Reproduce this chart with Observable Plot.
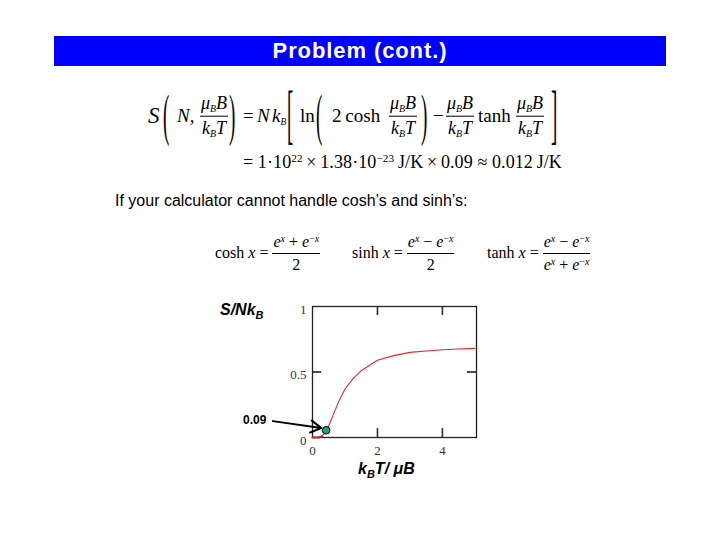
<!DOCTYPE html>
<html>
<head>
<meta charset="utf-8">
<script src="https://cdn.jsdelivr.net/npm/d3@7"></script>
<script src="https://cdn.jsdelivr.net/npm/@observablehq/plot@0.6"></script>
<style>
  html, body { margin: 0; padding: 0; background: #fff; }
  #page { position: relative; width: 720px; height: 540px; overflow: hidden; background: #fff; }
  .abs { position: absolute; white-space: nowrap; }
  .ser { font-family: "Liberation Serif", "Times New Roman", serif; color: #000; }
  .frac { display: inline-flex; flex-direction: column; align-items: center; vertical-align: middle; }
  .frac > .num { padding: 0 1px 2px 1px; border-bottom: 1px solid #000; line-height: 1.1; }
  .frac > .den { padding: 2px 1px 0 1px; line-height: 1.1; }
  .frac sub, .ser sub { font-size: 55%; vertical-align: -0.3em; line-height: 0; }
  .frac sup, .ser sup { font-size: 62%; vertical-align: 0.55em; line-height: 0; }
  .row { display: flex; align-items: center; }
  #eq1 > span { position: absolute; top: 32px; transform: translateY(-50%); white-space: nowrap; }
  #eq1 > span.big3 { transform: translateY(-50%) scaleY(3.0); }
  #eq1 > span.big4 { transform: translateY(-50%) scaleY(3.4); }
  #eq1 .frac { font-size: 18px; }
</style>
</head>
<body>
<div id="page">
  <div class="abs" style="left:54px;top:36px;width:612px;height:30px;background:#0000ff;"></div>
  <div class="abs" id="title" style="left:54px;top:36px;width:612px;height:30px;line-height:30px;text-align:center;color:#fff;font-family:'Liberation Sans',Arial,sans-serif;font-size:22px;font-weight:bold;letter-spacing:0.9px;"></div>

  <div class="abs ser" id="eq1" style="left:0px;top:84px;width:720px;height:64px;font-size:19px;">
    <span style="left:148px;font-size:23px;font-style:italic;">S</span>
    <span class="big3" style="left:163px;">(</span>
    <span style="left:177px;"><i>N</i>,</span>
    <span class="frac" style="left:200px;"><span class="num"><i>μ</i><sub><i>B</i></sub><i>B</i></span><span class="den"><i>k</i><sub><i>B</i></sub><i>T</i></span></span>
    <span class="big3" style="left:229px;">)</span>
    <span style="left:243px;">=</span>
    <span style="left:257px;font-style:italic;">N</span>
    <span style="left:272px;"><i>k</i><sub style="font-size:50%;"><i>B</i></sub></span>
    <span class="big4" style="left:287px;">[</span>
    <span style="left:300px;">ln</span>
    <span class="big3" style="left:316px;">(</span>
    <span style="left:332px;">2&thinsp;cosh</span>
    <span class="frac" style="left:389px;"><span class="num"><i>μ</i><sub><i>B</i></sub><i>B</i></span><span class="den"><i>k</i><sub><i>B</i></sub><i>T</i></span></span>
    <span class="big3" style="left:421px;">)</span>
    <span style="left:433px;">−</span>
    <span class="frac" style="left:446px;"><span class="num"><i>μ</i><sub><i>B</i></sub><i>B</i></span><span class="den"><i>k</i><sub><i>B</i></sub><i>T</i></span></span>
    <span style="left:478px;">tanh</span>
    <span class="frac" style="left:516px;"><span class="num"><i>μ</i><sub><i>B</i></sub><i>B</i></span><span class="den"><i>k</i><sub><i>B</i></sub><i>T</i></span></span>
    <span class="big4" style="left:551px;">]</span>
  </div>
  <div class="abs ser" id="eq2" style="left:243px;top:152px;font-size:18px;letter-spacing:0.1px;"></div>

  <div class="abs" id="calcnote" style="left:115px;top:193px;line-height:1;font-family:'Liberation Sans',Arial,sans-serif;font-size:16px;color:#000;"></div>

  <div class="abs ser row" style="left:215px;top:233px;font-size:16px;">
    <span>cosh&nbsp;<i>x</i>&nbsp;=&nbsp;</span>
    <span class="frac"><span class="num"><i>e</i><sup><i>x</i></sup> + <i>e</i><sup>−<i>x</i></sup></span><span class="den">2</span></span>
  </div>
  <div class="abs ser row" style="left:352px;top:233px;font-size:16px;">
    <span>sinh&nbsp;<i>x</i>&nbsp;=&nbsp;</span>
    <span class="frac"><span class="num"><i>e</i><sup><i>x</i></sup> − <i>e</i><sup>−<i>x</i></sup></span><span class="den">2</span></span>
  </div>
  <div class="abs ser row" style="left:487px;top:233px;font-size:16px;">
    <span>tanh&nbsp;<i>x</i>&nbsp;=&nbsp;</span>
    <span class="frac"><span class="num"><i>e</i><sup><i>x</i></sup> − <i>e</i><sup>−<i>x</i></sup></span><span class="den"><i>e</i><sup><i>x</i></sup> + <i>e</i><sup>−<i>x</i></sup></span></span>
  </div>

  <div class="abs" id="chart" style="left:200px;top:290px;"></div>
  <div class="abs" style="left:220px;top:301px;font-family:'Liberation Sans',Arial,sans-serif;font-size:16px;font-weight:bold;font-style:italic;">S/Nk<sub style="font-size:11px;vertical-align:-0.35em;">B</sub></div>
  <div class="abs" style="left:358px;top:460px;font-family:'Liberation Sans',Arial,sans-serif;font-size:16px;font-weight:bold;font-style:italic;">k<sub style="font-size:11px;vertical-align:-0.35em;">B</sub>T/ μB</div>
</div>
<script>
// ---- text ----
const titleText = "Problem (cont.)";
const noteText = "If your calculator cannot handle cosh\u2019s and sinh\u2019s:";
document.getElementById("title").textContent = titleText;
document.getElementById("calcnote").textContent = noteText;
document.getElementById("eq2").innerHTML =
  "= 1\u00b710<sup>22</sup>&thinsp;\u00d7\u20091.38\u00b710<sup>\u221223</sup>&thinsp;J/K\u2009\u00d7\u20090.09 \u2248 0.012\u2009J/K";

// ---- chart data ----
const tValues = [0, 0.2, 0.3, 0.4, 0.5, 0.6, 0.8, 1.0, 1.25, 1.5, 2, 2.5, 3, 3.5, 4, 4.5, 5];
const sValues = [0, 0, 0.01, 0.04, 0.09, 0.15, 0.27, 0.37, 0.45, 0.51, 0.59, 0.625, 0.65, 0.66, 0.67, 0.675, 0.68];
const xTicks = [0, 2, 4];
const xTickLabels = ["0", "2", "4"];
const yTicks = [0, 0.5, 1];
const yTickLabels = ["0", "0.5", "1"];
const markerX = [0.42];
const markerY = [0.055];
const arrowFrom = [-1.22, 0.125];
const arrowTo = [0.27, 0.072];
const annotationText = "0.09";
const annotationPos = [-1.42, 0.13];

const curve = tValues.map((t, i) => ({t, s: sValues[i]}));
const marker = markerX.map((x, i) => ({x, y: markerY[i]}));
const xDomain = [0, 5.05];
const tickLenX = 0.069; // inward tick length in y units
const tickLenY = 0.28;  // inward tick length in x units

const chart = Plot.plot({
  width: 290,
  height: 190,
  marginLeft: 112,
  marginRight: 14,
  marginTop: 16,
  marginBottom: 43,
  style: {fontFamily: "'Liberation Serif', 'Times New Roman', serif", fontSize: "13px", color: "#333", background: "transparent", overflow: "visible"},
  x: {domain: xDomain, label: null},
  y: {domain: [0, 1], label: null},
  marks: [
    Plot.axisX({ticks: xTicks, tickSize: 0, tickPadding: 8, label: null, fontSize: 13,
      tickFormat: d => xTickLabels[xTicks.indexOf(d)]}),
    Plot.axisY({ticks: yTicks, tickSize: 0, tickPadding: 6, label: null, fontSize: 13, dy: 3,
      tickFormat: d => yTickLabels[yTicks.indexOf(d)]}),
    Plot.ruleX(xTicks.filter(d => d > 0), {x: d => d, y1: 0, y2: tickLenX, stroke: "#333", strokeWidth: 1.6}),
    Plot.ruleX(xTicks.filter(d => d > 0), {x: d => d, y1: 1, y2: 1 - tickLenX, stroke: "#333", strokeWidth: 1.6}),
    Plot.ruleY([0.5], {y: d => d, x1: 0, x2: tickLenY, stroke: "#222", strokeWidth: 1.6}),
    Plot.ruleY([0.5], {y: d => d, x1: xDomain[1], x2: xDomain[1] - tickLenY, stroke: "#222", strokeWidth: 1.6}),
    Plot.frame({stroke: "#222", strokeWidth: 1.3}),
    Plot.line(curve.filter(d => d.t <= 0.35), {x: "t", y: "s", stroke: "#9b1a1a", strokeWidth: 2}),
    Plot.line(curve, {x: "t", y: "s", stroke: "#e0262e", strokeWidth: 1.1}),
    Plot.arrow([{x1: arrowFrom[0], y1: arrowFrom[1], x2: arrowTo[0], y2: arrowTo[1]}],
      {x1: "x1", y1: "y1", x2: "x2", y2: "y2", stroke: "#000", strokeWidth: 2, headLength: 9, bend: 0}),
    Plot.text([annotationText], {x: annotationPos[0], y: annotationPos[1], text: d => d, textAnchor: "end",
      fontFamily: "'Liberation Sans', Arial, sans-serif", fontWeight: "bold", fontSize: 12, fill: "#000"}),
    Plot.dot(marker, {x: "x", y: "y", r: 3.8, fill: "#1fa67a", stroke: "#000", strokeWidth: 1})
  ]
});
document.getElementById("chart").appendChild(chart);
</script>
</body>
</html>
